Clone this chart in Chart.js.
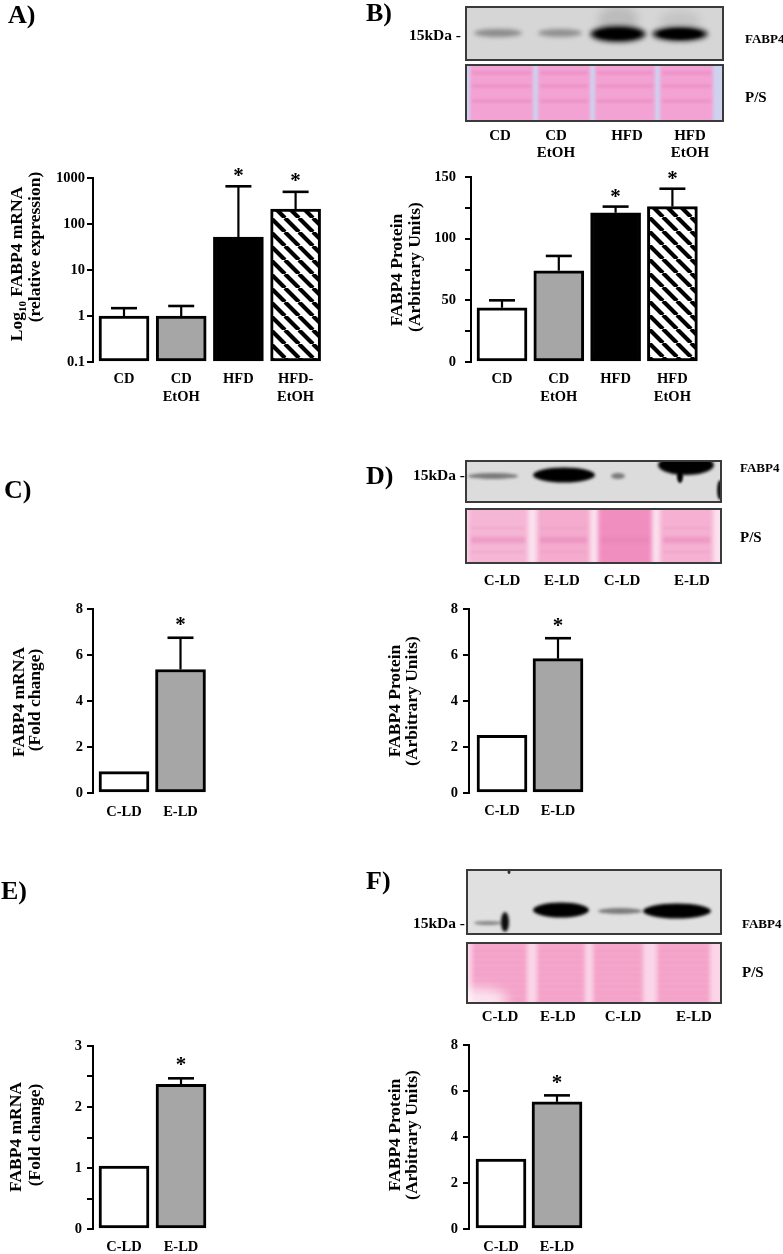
<!DOCTYPE html>
<html><head><meta charset="utf-8">
<script src="https://cdn.jsdelivr.net/npm/chart.js@4.4.1/dist/chart.umd.min.js"></script>
<style>
html,body{margin:0;padding:0;background:#fff;}
body{width:783px;height:1254px;position:relative;overflow:hidden;font-family:'Liberation Serif','Times New Roman',serif;font-weight:bold;color:#000;}
.t{position:absolute;white-space:nowrap;line-height:1;}
canvas{position:absolute;}
</style></head><body>
<canvas id="blots" width="783" height="1254" style="left:0;top:0"></canvas>
<script>
// ---------------- DATA ----------------
const catsA = [['CD'], ['CD','EtOH'], ['HFD'], ['HFD-','EtOH']];
const catsB = [['CD'], ['CD','EtOH'], ['HFD'], ['HFD','EtOH']];
const catsLD = [['C-LD'], ['E-LD']];
const lanesB = [['CD'], ['CD','EtOH'], ['HFD'], ['HFD','EtOH']];
const lanesLD = ['C-LD', 'E-LD', 'C-LD', 'E-LD'];

const mrnaA = [1.0, 1.0, 52, 210];
const mrnaAErr = [1.48, 1.65, 660, 500];
const sigA = [false, false, true, true];

const protB = [44, 74, 121, 126];
const protBErr = [50, 86, 126, 140.5];
const sigB = [false, false, true, true];

const mrnaC = [0.93, 5.37];
const mrnaCErr = [null, 6.75];
const protD = [2.51, 5.84];
const protDErr = [null, 6.73];
const mrnaE = [1.03, 2.37];
const mrnaEErr = [null, 2.47];
const protF = [3.04, 5.53];
const protFErr = [null, 5.81];
const sigLD = [false, true];

const ticksA = [0.1, 1, 10, 100, 1000];
const ticksB = [0, 25, 50, 75, 100, 125, 150];
const labelledB = [0, 50, 100, 150];
const ticks8 = [0, 2, 4, 6, 8];
const ticksE = [0, 0.5, 1, 1.5, 2, 2.5, 3];
const labelledE = [0, 1, 2, 3];

// ---------------- HELPERS ----------------
const SERIF = "'Liberation Serif','Times New Roman',serif";
const GREY = '#a6a6a6';
function txt(s, x, y, size, align){
  const d = document.createElement('div');
  d.className = 't';
  d.innerHTML = s;
  d.style.fontSize = size + 'px';
  d.style.left = x + 'px';
  d.style.top = y + 'px';
  const tx = align === 'l' ? '0' : align === 'r' ? '-100%' : '-50%';
  d.style.transform = 'translate(' + tx + ',-50%)';
  document.body.appendChild(d);
}
function rtxt(s, x, y, size){
  const d = document.createElement('div');
  d.className = 't';
  d.innerHTML = s;
  d.style.fontSize = size + 'px';
  d.style.left = x + 'px';
  d.style.top = y + 'px';
  d.style.transform = 'translate(-50%,-50%) rotate(-90deg)';
  document.body.appendChild(d);
}
function hatchPattern(){
  const c = document.createElement('canvas');
  c.width = c.height = 14;
  const g = c.getContext('2d');
  g.fillStyle = '#fff'; g.fillRect(0,0,14,14);
  g.strokeStyle = '#000'; g.lineWidth = 4.2;
  g.beginPath();
  for (const o of [-14, 0, 14]) { g.moveTo(o, 0); g.lineTo(o + 14, 14); }
  g.stroke();
  return g.createPattern(c, 'repeat');
}
const HATCH = hatchPattern();

function errPlugin(cfg){
  return {
    id: 'errbars',
    afterDatasetsDraw(chart){
      const ctx = chart.ctx, x = chart.scales.x, y = chart.scales.y;
      ctx.save();
      ctx.strokeStyle = '#000'; ctx.fillStyle = '#000';
      cfg.errs.forEach((e, i) => {
        if (e == null) return;
        const px = x.getPixelForValue(i);
        const y0 = y.getPixelForValue(cfg.values[i]);
        const y1 = y.getPixelForValue(e);
        ctx.lineWidth = 2.2;
        ctx.beginPath(); ctx.moveTo(px, y0); ctx.lineTo(px, y1); ctx.stroke();
        ctx.lineWidth = 2.6;
        ctx.beginPath(); ctx.moveTo(px - 13, y1); ctx.lineTo(px + 13, y1); ctx.stroke();
      });
      cfg.sig.forEach((s, i) => {
        if (!s) return;
        const px = x.getPixelForValue(i);
        const top = cfg.errs[i] != null ? cfg.errs[i] : cfg.values[i];
        const y1 = y.getPixelForValue(top);
        ctx.font = 'bold 21px ' + SERIF;
        ctx.textAlign = 'center'; ctx.textBaseline = 'middle';
        ctx.fillText('*', px, y1 - cfg.starGap + 3);
      });
      ctx.restore();
    }
  };
}

function makeChart(cfg){
  const yW = 60, xH = 50, padTop = 30, padRight = 8;
  const cv = document.createElement('canvas');
  const W = (cfg.R - cfg.L) + yW + padRight;
  const H = padTop + (cfg.B - cfg.T) + xH;
  cv.width = W; cv.height = H;
  cv.style.left = (cfg.L - yW) + 'px';
  cv.style.top = (cfg.T - padTop) + 'px';
  document.body.appendChild(cv);
  const s = cfg.centers[1] - cfg.centers[0];
  const xmin = -(cfg.centers[0] - cfg.L) / s;
  const xmax = xmin + (cfg.R - cfg.L) / s;
  const tickFont = {family: SERIF, weight: 'bold', size: 14.5};
  new Chart(cv, {
    type: 'bar',
    data: {
      datasets: [{
        data: cfg.values.map((v, i) => ({x: i, y: v})),
        backgroundColor: cfg.fills,
        borderColor: '#000',
        borderWidth: 3,
        borderSkipped: false,
        barThickness: 50,
        base: cfg.base
      }]
    },
    options: {
      responsive: false, animation: false, devicePixelRatio: 1,
      layout: {padding: {top: padTop, right: padRight, left: 0, bottom: 0}},
      plugins: {legend: {display: false}, tooltip: {enabled: false}},
      scales: {
        x: {
          type: 'linear', min: xmin, max: xmax, offset: false,
          grid: {display: false, drawTicks: false},
          border: {display: false},
          afterBuildTicks: sc => { sc.ticks = cfg.labels.map((l, i) => ({value: i})); },
          ticks: {callback: v => cfg.labels[v], font: tickFont, color: '#000', padding: cfg.xPad, maxRotation: 0, autoSkip: false},
          afterFit: sc => { sc.height = xH; }
        },
        y: {
          type: cfg.log ? 'logarithmic' : 'linear',
          min: cfg.yMin, max: cfg.yMax,
          afterBuildTicks: sc => { sc.ticks = cfg.yTicks.map(v => ({value: v})); },
          ticks: {callback: v => cfg.yLabelled.includes(v) ? String(v) : '', font: tickFont, color: '#000', padding: cfg.yPad, autoSkip: false},
          grid: {display: true, drawOnChartArea: false, drawTicks: true, tickLength: 6, color: '#000', lineWidth: 2},
          border: {display: true, color: '#000', width: 2},
          afterFit: sc => { sc.width = yW; }
        }
      }
    },
    plugins: [errPlugin(cfg)]
  });
}

// ---------------- CHARTS ----------------
makeChart({L: 93, R: 330, T: 178, B: 362, centers: [124, 181.2], labels: catsA,
  values: mrnaA, errs: mrnaAErr, sig: sigA, fills: ['#fff', GREY, '#000', HATCH],
  log: true, yMin: 0.1, yMax: 1000, yTicks: ticksA, yLabelled: ticksA, base: 0.1,
  xPad: 9, yPad: 2, starGap: 13});
makeChart({L: 471, R: 705, T: 177, B: 362, centers: [502, 558.8], labels: catsB,
  values: protB, errs: protBErr, sig: sigB, fills: ['#fff', GREY, '#000', HATCH],
  yMin: 0, yMax: 150, yTicks: ticksB, yLabelled: labelledB,
  xPad: 9, yPad: 9, starGap: 12});
makeChart({L: 93, R: 215, T: 609, B: 793, centers: [124, 180.5], labels: catsLD,
  values: mrnaC, errs: mrnaCErr, sig: sigLD, fills: ['#fff', GREY],
  yMin: 0, yMax: 8, yTicks: ticks8, yLabelled: ticks8,
  xPad: 11, yPad: 4, starGap: 15});
makeChart({L: 469, R: 590, T: 609, B: 793, centers: [502, 558], labels: catsLD,
  values: protD, errs: protDErr, sig: sigLD, fills: ['#fff', GREY],
  yMin: 0, yMax: 8, yTicks: ticks8, yLabelled: ticks8,
  xPad: 10, yPad: 5, starGap: 15});
makeChart({L: 93, R: 215, T: 1046, B: 1229, centers: [124, 181], labels: catsLD,
  values: mrnaE, errs: mrnaEErr, sig: sigLD, fills: ['#fff', GREY],
  yMin: 0, yMax: 3, yTicks: ticksE, yLabelled: labelledE,
  xPad: 10, yPad: 5, starGap: 16});
makeChart({L: 469, R: 590, T: 1045, B: 1229, centers: [501, 557], labels: catsLD,
  values: protF, errs: protFErr, sig: sigLD, fills: ['#fff', GREY],
  yMin: 0, yMax: 8, yTicks: ticks8, yLabelled: ticks8,
  xPad: 10, yPad: 5, starGap: 15});

// ---------------- AXIS TITLES ----------------
const TS = 17.5;
rtxt('Log<span style="font-size:11px;position:relative;top:4px">10</span> FABP4 mRNA', 17, 264, TS);
rtxt('(relative expression)', 35, 247, TS);
rtxt('FABP4 Protein', 397, 270, TS);
rtxt('(Arbitrary Units)', 415, 267, TS);
rtxt('FABP4 mRNA', 19, 702, TS);
rtxt('(Fold change)', 35, 700, TS);
rtxt('FABP4 Protein', 395, 701, TS);
rtxt('(Arbitrary Units)', 412, 701, TS);
rtxt('FABP4 mRNA', 16, 1137, TS);
rtxt('(Fold change)', 35, 1135, TS);
rtxt('FABP4 Protein', 395, 1135, TS);
rtxt('(Arbitrary Units)', 412, 1135, TS);

// ---------------- PANEL LABELS ----------------
txt('A)', 8, 15, 26, 'l');
txt('B)', 366, 13, 26, 'l');
txt('C)', 4, 490, 26, 'l');
txt('D)', 366, 476, 26, 'l');
txt('E)', 1, 891, 26, 'l');
txt('F)', 366, 881, 26, 'l');

// ---------------- BLOT LABELS ----------------
txt('15kDa -', 461, 35, 15.5, 'r');
txt('FABP4', 745, 38, 13, 'l');
txt('P/S', 745, 97, 15, 'l');
[500, 556, 627, 690].forEach((x, i) => lanesB[i].forEach((l, j) => txt(l, x, 135 + j * 17, 15, 'c')));
txt('15kDa -', 465, 475, 15.5, 'r');
txt('FABP4', 740, 467, 13, 'l');
txt('P/S', 740, 537, 15, 'l');
[502, 562, 622, 692].forEach((x, i) => txt(lanesLD[i], x, 580, 15, 'c'));
txt('15kDa -', 465, 923, 15.5, 'r');
txt('FABP4', 742, 923, 13, 'l');
txt('P/S', 742, 972, 15, 'l');
[500, 558, 623, 694].forEach((x, i) => txt(lanesLD[i], x, 1016, 15, 'c'));

// ---------------- BLOT IMAGES (decorative) ----------------
const bc = document.getElementById('blots').getContext('2d');
function ell(cx, cy, rx, ry, color, alpha, blur){
  bc.save(); bc.globalAlpha = alpha; bc.filter = 'blur(' + blur + 'px)'; bc.fillStyle = color;
  bc.beginPath(); bc.ellipse(cx, cy, rx, ry, 0, 0, Math.PI * 2); bc.fill(); bc.restore();
}
function rect(x0, y0, x1, y1, color, alpha, blur){
  bc.save(); bc.globalAlpha = alpha; bc.filter = 'blur(' + blur + 'px)'; bc.fillStyle = color;
  bc.fillRect(x0, y0, x1 - x0, y1 - y0); bc.restore();
}
function box(x0, y0, x1, y1, bg, fn){
  bc.save(); bc.beginPath(); bc.rect(x0, y0, x1 - x0, y1 - y0); bc.clip();
  bc.fillStyle = bg; bc.fillRect(x0, y0, x1 - x0, y1 - y0);
  fn(); bc.restore();
  bc.save(); bc.strokeStyle = '#3a3a3a'; bc.lineWidth = 2; bc.strokeRect(x0, y0, x1 - x0, y1 - y0); bc.restore();
}
// B FABP4
box(466, 7, 723, 60, '#d6d6d6', () => {
  ell(618, 20, 20, 14, '#000', 0.12, 4);
  ell(680, 22, 20, 12, '#000', 0.08, 4);
  ell(498, 33, 24, 4, '#000', 0.35, 2);
  ell(560, 33, 22, 4, '#000', 0.33, 2);
  ell(618, 34, 28, 8, '#000', 0.9, 2.5);
  ell(680, 34, 28, 7, '#000', 0.85, 2.5);
  ell(618, 34, 22, 5, '#000', 1, 1.5);
  ell(680, 34, 22, 5, '#000', 1, 1.5);
});
// B P/S
box(466, 65, 723, 121, '#cfd2ef', () => {
  [[470, 533], [538, 590], [595, 655], [660, 713]].forEach(([a, b]) => {
    rect(a, 60, b, 126, '#f3a3d3', 1, 1.5);
    [73, 86, 101].forEach(yy => rect(a + 2, yy - 1.5, b - 2, yy + 1.5, '#e070b0', 0.4, 1.5));
  });
});
// D FABP4
box(466, 461, 721, 502, '#dcdcdc', () => {
  ell(493, 476, 25, 3, '#000', 0.45, 1.5);
  ell(564, 475, 31, 7.5, '#000', 1, 1.5);
  ell(618, 476, 7, 3, '#000', 0.45, 1.5);
  ell(686, 465, 28, 10, '#000', 1, 1.5);
  ell(680, 476, 3, 7, '#000', 1, 1);
  ell(720, 490, 3, 10, '#000', 0.9, 1);
});
// D P/S
box(466, 509, 721, 563, '#fbe2ef', () => {
  const cols = ['#f5b5d4', '#f4abce', '#f08ec0', '#f5b0d2'];
  [[468, 528], [537, 590], [598, 652], [660, 713]].forEach(([a, b], i) => {
    rect(a, 504, b, 568, cols[i], 1, 2);
    rect(a + 3, 537, b - 3, 543, '#e57fb5', 0.45, 1.5);
    rect(a + 3, 527, b - 3, 529, '#e88ab8', 0.25, 1);
    rect(a + 3, 551, b - 3, 553, '#e88ab8', 0.25, 1);
  });
});
// F FABP4
box(467, 870, 721, 934, '#e0e0e0', () => {
  ell(488, 923, 14, 2, '#000', 0.4, 1.5);
  ell(505, 922, 4, 10, '#000', 0.95, 1.5);
  ell(561, 910, 28, 7.5, '#000', 1, 1.5);
  ell(620, 911, 22, 3, '#000', 0.45, 1.5);
  ell(677, 911, 34, 7.5, '#000', 1, 1.5);
  ell(509, 872, 1.5, 2, '#000', 0.8, 0.5);
});
// F P/S
box(467, 943, 721, 1003, '#fad6e8', () => {
  [[472, 527], [537, 585], [593, 643], [657, 710]].forEach(([a, b]) => {
    rect(a, 938, b, 1008, '#f5a6cb', 1, 2);
    for (let yy = 950; yy < 1000; yy += 6) rect(a + 2, yy, b - 2, yy + 1.5, '#e987b8', 0.3, 0.8);
  });
  ell(478, 1000, 30, 12, '#fff', 0.7, 6);
});
</script>
</body></html>
